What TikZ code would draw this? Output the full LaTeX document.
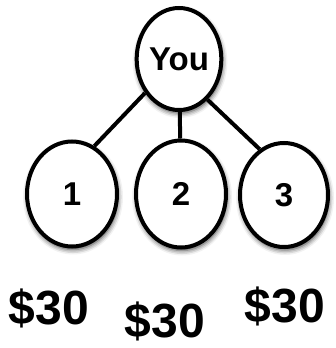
\documentclass[tikz,border=0pt]{standalone}
\usepackage{fontspec}
\setmainfont{Liberation Sans}
\usetikzlibrary{shapes.geometric,shadows.blur}
\begin{document}
\begin{tikzpicture}[x=1pt, y=-1pt,
		persona/.style={ellipse, draw, line width=4pt, fill=white, inner sep=0pt,
			blur shadow={shadow xshift=1pt, shadow yshift=-3pt, shadow blur radius=5pt, shadow opacity=80},
			font=\bfseries\fontsize{33}{33}\selectfont},
		pago/.style={anchor=base, inner sep=0pt, font=\bfseries\fontsize{48}{48}\selectfont},
		rama/.style={line width=4pt}]
			\useasboundingbox (0,0) rectangle (335,348);
			
			\node[persona, minimum width=80pt, minimum height=102pt] (you) at (179,59) {You};
			\node[persona, minimum width=90pt, minimum height=105pt] (n1) at (72,194) {1};
			\node[persona, minimum width=90pt, minimum height=107pt] (n2) at (181,194) {2};
			\node[persona, minimum width=88pt, minimum height=104pt] (n3) at (284,195) {3};
			
			% Ramas
			\draw[rama] (you.225) -- (n1.65);
			\draw[rama] (you) -- (n2);
			\draw[rama] (you.305) -- (n3.118);
			
			\node[pago] (c1) at (49,324) {\$30};
			\node[pago] (c2) at (165,337) {\$30};
			\node[pago] (c3) at (285,322) {\$30};
		\end{tikzpicture}
\end{document}
